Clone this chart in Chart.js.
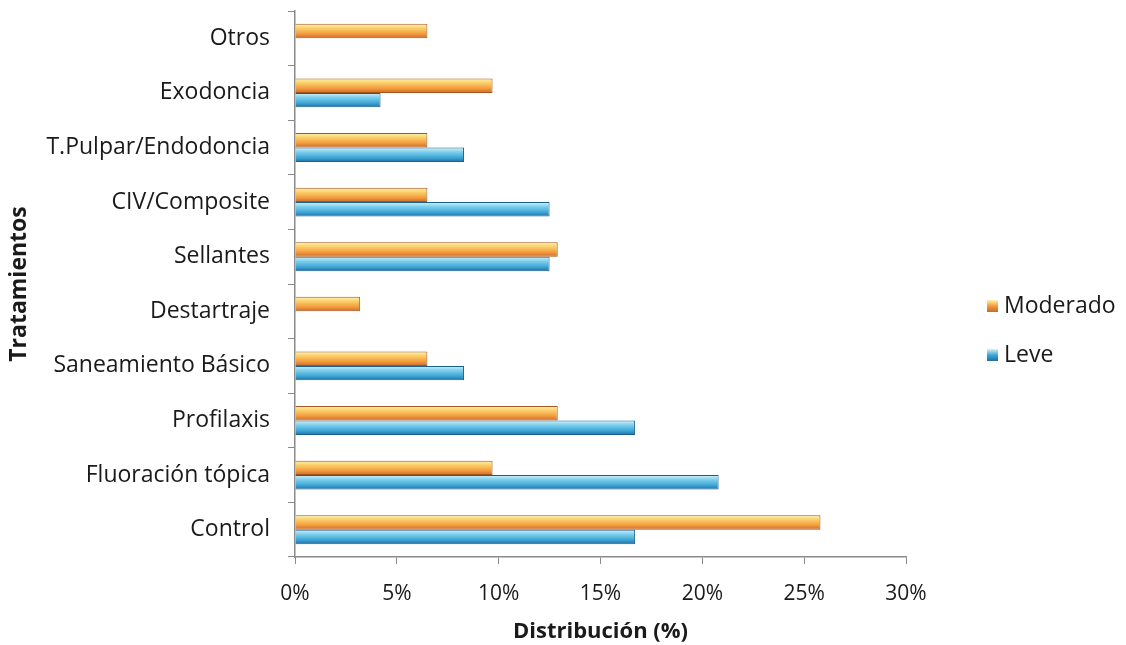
<!DOCTYPE html>
<html>
<head>
<meta charset="utf-8">
<script src="https://cdn.jsdelivr.net/npm/chart.js@4.4.1/dist/chart.umd.min.js"></script>
<style>
  html, body { margin: 0; padding: 0; background: #ffffff; }
  #wrap { width: 1126px; height: 645px; position: relative; }
</style>
</head>
<body>
<div id="wrap"><canvas id="c" width="1126" height="645"></canvas></div>
<script>
// Treatments, listed top to bottom
const categories = ['Otros', 'Exodoncia', 'T.Pulpar/Endodoncia', 'CIV/Composite', 'Sellantes',
  'Destartraje', 'Saneamiento Básico', 'Profilaxis', 'Fluoración tópica', 'Control'];
// Share of each treatment (%) by severity
const moderado = [6.5, 9.7, 6.5, 6.5, 12.9, 3.2, 6.5, 12.9, 9.7, 25.8];
const leve = [0, 4.2, 8.3, 12.5, 12.5, 0, 8.3, 16.7, 20.8, 16.7];
const xTicks = [0, 5, 10, 15, 20, 25, 30];
const seriesNames = ['Moderado', 'Leve'];

const FONT = '"Open Sans", Lato, sans-serif';
const CAT_PCT = 0.53;
const TEXT = '#1a1a1a';

const palettes = [
  ['#fff3b0', '#fbd06a', '#f39a3e', '#c8692a'],
  ['#d4f3fb', '#7fd0ec', '#3ea6d6', '#1f6fa6']
];

// Vertical shading for each bar, built from the y scale's band for that row
function barGradient(ctx) {
  const chart = ctx.chart;
  const p = palettes[ctx.datasetIndex];
  const y = chart.scales.y;
  if (!y || ctx.dataIndex === undefined) return p[2];
  const center = y.getPixelForValue(ctx.dataIndex);
  const band = (y.bottom - y.top) / categories.length;
  if (!isFinite(center) || !isFinite(band) || band <= 0) return p[2];
  const thick = band * CAT_PCT / 2;
  const top = ctx.datasetIndex === 0 ? center - thick : center;
  const g = chart.ctx.createLinearGradient(0, top, 0, top + thick);
  g.addColorStop(0, p[0]);
  g.addColorStop(0.3, p[1]);
  g.addColorStop(0.7, p[2]);
  g.addColorStop(1, p[3]);
  return g;
}

const legendPlugin = {
  id: 'sideLegend',
  afterDraw(chart) {
    const c = chart.ctx;
    const rows = [306, 355];
    c.save();
    c.font = '23px ' + FONT;
    c.textBaseline = 'middle';
    seriesNames.forEach((name, i) => {
      const p = palettes[i];
      const g = c.createLinearGradient(0, rows[i] - 6, 0, rows[i] + 6);
      g.addColorStop(0, p[0]); g.addColorStop(0.5, p[2]); g.addColorStop(1, p[3]);
      c.fillStyle = g;
      c.fillRect(987, rows[i] - 6, 11, 12);
      c.fillStyle = TEXT;
      c.fillText(name, 1004, rows[i]);
    });
    c.restore();
  }
};

new Chart(document.getElementById('c'), {
  type: 'bar',
  data: {
    labels: categories,
    datasets: [
      { label: seriesNames[0], data: moderado, backgroundColor: barGradient,
        borderColor: '#a8561e', borderWidth: 1 },
      { label: seriesNames[1], data: leve, backgroundColor: barGradient,
        borderColor: '#1a5f8f', borderWidth: 1 }
    ]
  },
  options: {
    indexAxis: 'y',
    responsive: false,
    animation: false,
    layout: { padding: { top: 11, right: 220, bottom: 0, left: 6 } },
    datasets: { bar: { barPercentage: 1.0, categoryPercentage: CAT_PCT } },
    plugins: { legend: { display: false }, tooltip: { enabled: false } },
    scales: {
      x: {
        min: 0, max: 30,
        afterFit(s) { s.height = 88; s.paddingLeft = 0; s.paddingRight = 0; },
        afterBuildTicks(s) { s.ticks = xTicks.map(v => ({ value: v })); },
        grid: { drawOnChartArea: false, drawTicks: true, tickLength: 7, color: '#8a8a8a' },
        border: { display: true, color: '#8a8a8a', width: 1.5 },
        ticks: { color: TEXT, font: { family: FONT, size: 21 }, padding: 17,
          callback: v => v + '%' },
        title: { display: true, text: 'Distribución (%)', color: TEXT,
          font: { family: FONT, size: 22, weight: 'bold' }, padding: { top: 2, bottom: 0 } }
      },
      y: {
        afterFit(s) { s.width = 289; s.paddingTop = 0; s.paddingBottom = 0; },
        grid: { drawOnChartArea: false, drawTicks: true, tickLength: 7, offset: true, color: '#8a8a8a' },
        border: { display: true, color: '#8a8a8a', width: 1.5 },
        ticks: { color: TEXT, font: { family: FONT, size: 23 }, padding: 18 },
        title: { display: true, text: 'Tratamientos', color: TEXT,
          font: { family: FONT, size: 23, weight: 'bold' }, padding: { top: 0, bottom: 0 } }
      }
    }
  },
  plugins: [legendPlugin]
});
</script>
</body>
</html>
